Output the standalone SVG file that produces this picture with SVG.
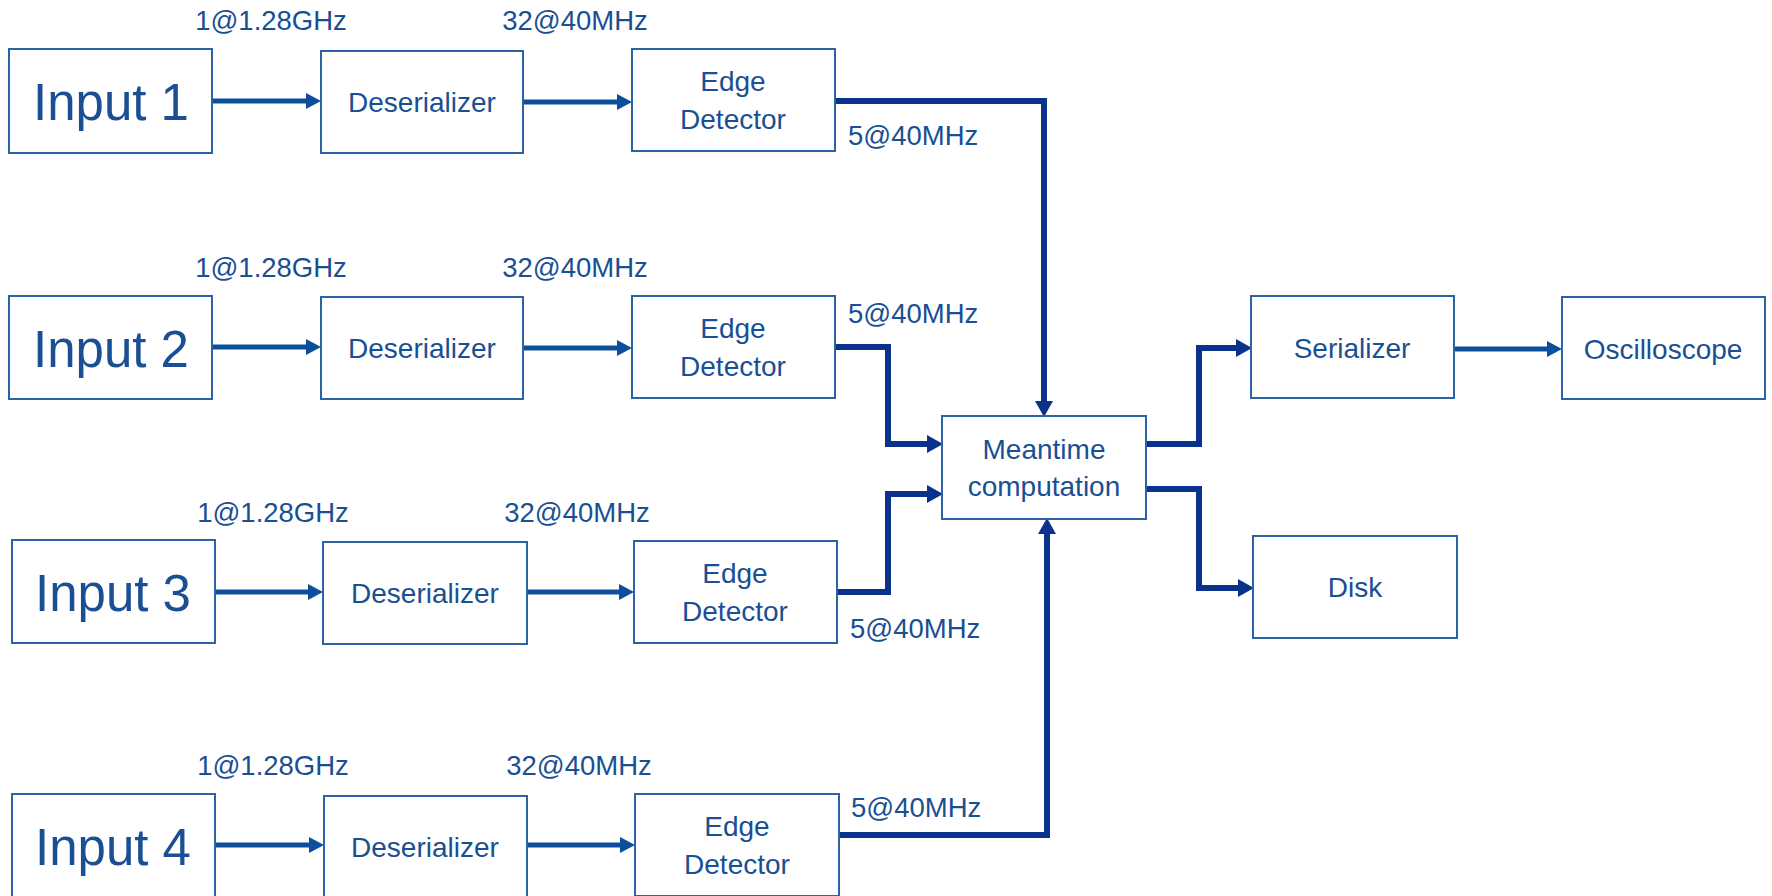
<svg xmlns="http://www.w3.org/2000/svg" width="1772" height="896" viewBox="0 0 1772 896">
<style>
.box{fill:#fff;stroke:#2C62A6;stroke-width:2}
.t{font-family:"Liberation Sans",Arial,sans-serif;fill:#1A4F93;text-anchor:middle;font-size:28px}
.big{font-size:51px}
.lbl{font-family:"Liberation Sans",Arial,sans-serif;fill:#1A4F93;font-size:27.5px}
.a{fill:none;stroke:#0D4E9C;stroke-width:5}
.b{fill:none;stroke:#0A318C;stroke-width:6;stroke-linejoin:miter}
</style>
<defs>
<marker id="ma" markerUnits="userSpaceOnUse" markerWidth="16" markerHeight="18" refX="5" refY="8" orient="auto" viewBox="0 0 16 16"><path d="M0,0 L15,8 L0,16 z" fill="#0D4E9C"/></marker>
<marker id="mb" markerUnits="userSpaceOnUse" markerWidth="17" markerHeight="19" refX="5" refY="9" orient="auto" viewBox="0 0 17 18"><path d="M0,0 L16,9 L0,18 z" fill="#0A318C"/></marker>
</defs>
<rect width="1772" height="896" fill="#fff"/>
<g id="connectors">
<path class="a" marker-end="url(#ma)" d="M212,101 H311"/>
<path class="a" marker-end="url(#ma)" d="M523,102 H622"/>
<path class="a" marker-end="url(#ma)" d="M212,347 H311"/>
<path class="a" marker-end="url(#ma)" d="M523,348 H622"/>
<path class="a" marker-end="url(#ma)" d="M215,592 H313"/>
<path class="a" marker-end="url(#ma)" d="M527,592 H624"/>
<path class="a" marker-end="url(#ma)" d="M215,845 H314"/>
<path class="a" marker-end="url(#ma)" d="M527,845 H625"/>
<path class="a" marker-end="url(#ma)" d="M1454,349 H1552"/>
<path class="b" marker-end="url(#mb)" d="M835,101 H1044 V406"/>
<path class="b" marker-end="url(#mb)" d="M835,347 H888 V444 H932"/>
<path class="b" marker-end="url(#mb)" d="M837,592 H888 V494 H932"/>
<path class="b" marker-end="url(#mb)" d="M839,835 H1047 V529"/>
<path class="b" marker-end="url(#mb)" d="M1146,444 H1199 V348 H1241"/>
<path class="b" marker-end="url(#mb)" d="M1146,489 H1199 V588 H1243"/>
</g>
<g id="labels">
<text class="lbl" x="271" y="30" text-anchor="middle">1@1.28GHz</text>
<text class="lbl" x="575" y="30" text-anchor="middle">32@40MHz</text>
<text class="lbl" x="848" y="145">5@40MHz</text>
<text class="lbl" x="271" y="277" text-anchor="middle">1@1.28GHz</text>
<text class="lbl" x="575" y="277" text-anchor="middle">32@40MHz</text>
<text class="lbl" x="848" y="323">5@40MHz</text>
<text class="lbl" x="273" y="522" text-anchor="middle">1@1.28GHz</text>
<text class="lbl" x="577" y="522" text-anchor="middle">32@40MHz</text>
<text class="lbl" x="850" y="638">5@40MHz</text>
<text class="lbl" x="273" y="775" text-anchor="middle">1@1.28GHz</text>
<text class="lbl" x="579" y="775" text-anchor="middle">32@40MHz</text>
<text class="lbl" x="851" y="817">5@40MHz</text>
</g>
<g id="input1"><rect class="box" x="9" y="49" width="203" height="104"/><text class="t big" x="111" y="120">Input 1</text></g>
<g id="deser1"><rect class="box" x="321" y="51" width="202" height="102"/><text class="t" x="422" y="112">Deserializer</text></g>
<g id="edge1"><rect class="box" x="632" y="49" width="203" height="102"/><text class="t" x="733" y="91">Edge</text><text class="t" x="733" y="129">Detector</text></g>
<g id="input2"><rect class="box" x="9" y="296" width="203" height="103"/><text class="t big" x="111" y="367">Input 2</text></g>
<g id="deser2"><rect class="box" x="321" y="297" width="202" height="102"/><text class="t" x="422" y="358">Deserializer</text></g>
<g id="edge2"><rect class="box" x="632" y="296" width="203" height="102"/><text class="t" x="733" y="338">Edge</text><text class="t" x="733" y="376">Detector</text></g>
<g id="input3"><rect class="box" x="12" y="540" width="203" height="103"/><text class="t big" x="113" y="611">Input 3</text></g>
<g id="deser3"><rect class="box" x="323" y="542" width="204" height="102"/><text class="t" x="425" y="603">Deserializer</text></g>
<g id="edge3"><rect class="box" x="634" y="541" width="203" height="102"/><text class="t" x="735" y="583">Edge</text><text class="t" x="735" y="621">Detector</text></g>
<g id="input4"><rect class="box" x="12" y="794" width="203" height="104"/><text class="t big" x="113" y="865">Input 4</text></g>
<g id="deser4"><rect class="box" x="324" y="796" width="203" height="102"/><text class="t" x="425" y="857">Deserializer</text></g>
<g id="edge4"><rect class="box" x="635" y="794" width="204" height="102"/><text class="t" x="737" y="836">Edge</text><text class="t" x="737" y="874">Detector</text></g>
<g id="meantime"><rect class="box" x="942" y="416" width="204" height="103"/><text class="t" x="1044" y="459">Meantime</text><text class="t" x="1044" y="496">computation</text></g>
<g id="serializer"><rect class="box" x="1251" y="296" width="203" height="102"/><text class="t" x="1352" y="358">Serializer</text></g>
<g id="oscilloscope"><rect class="box" x="1562" y="297" width="203" height="102"/><text class="t" x="1663" y="359">Oscilloscope</text></g>
<g id="disk"><rect class="box" x="1253" y="536" width="204" height="102"/><text class="t" x="1355" y="597">Disk</text></g>
</svg>
